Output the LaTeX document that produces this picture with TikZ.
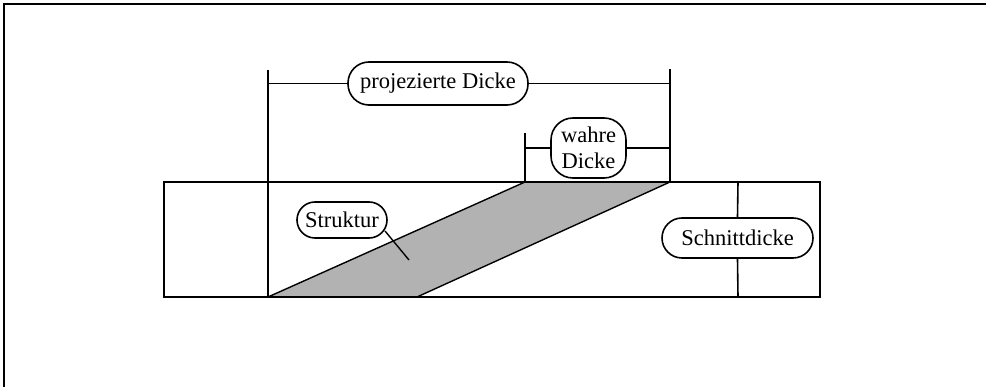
\documentclass[tikz,border=0pt]{standalone}
\usepackage{fontspec}
\setmainfont{Liberation Serif}
\begin{document}
\begin{tikzpicture}[x=1pt,y=-1pt,line width=1.6pt,
  pill/.style={draw,fill=white,inner sep=0pt,font=\fontsize{22.5}{26}\selectfont}]
\useasboundingbox (0,0) rectangle (986,387);

% frame edges
\draw[line width=2.4pt] (4,387) -- (4,4) -- (986,4);

% sample block corners
\coordinate (bl) at (164,297);
\coordinate (tr) at (820,182);

% inclined structure (shaded band)
\coordinate (s1) at (268,297);
\coordinate (s2) at (525,182);
\coordinate (s3) at (670,182);
\coordinate (s4) at (417,297);
\fill[black!30] (s1) -- (s2) -- (s3) -- (s4) -- cycle;
\draw[line width=1.4pt] (s1) -- (s2);
\draw[line width=1.4pt] (s3) -- (s4);

\draw (bl) rectangle (tr);

% projected thickness dimension
\coordinate (pL) at (268,70);
\coordinate (pLb) at (268,297);
\coordinate (pR) at (670,69);
\coordinate (pRb) at (670,182);
\draw (pL) -- (pLb);
\draw (pR) -- (pRb);
\node[pill,minimum width=180pt,minimum height=43pt,rounded corners=21pt] (proj) at (438,83.5) {projezierte Dicke};
\draw (268,83.5) -- (proj.west);
\draw (proj.east) -- (670,83.5);

% true thickness dimension
\coordinate (wL) at (525,133);
\draw (wL) -- (s2);
\node[pill,minimum width=75pt,minimum height=60pt,rounded corners=22pt,align=center] (wahr) at (588.5,148) {wahre\\Dicke};
\draw (525,148) -- (wahr.west);
\draw (wahr.east) -- (670,148);

% section thickness
\coordinate (cT) at (738,182);
\coordinate (cB) at (738,297);
\node[pill,minimum width=151pt,minimum height=40pt,rounded corners=20pt] (schnitt) at (737.5,238) {Schnittdicke};
\draw (cT) -- (schnitt.north);
\draw (schnitt.south) -- (cB);

% structure label with leader
\node[pill,minimum width=90pt,minimum height=36pt,rounded corners=18pt] (struk) at (342,220) {Struktur};
\coordinate (sp) at (409,260);
\draw[line width=1.4pt] (385,231) -- (sp);
\end{tikzpicture}
\end{document}
